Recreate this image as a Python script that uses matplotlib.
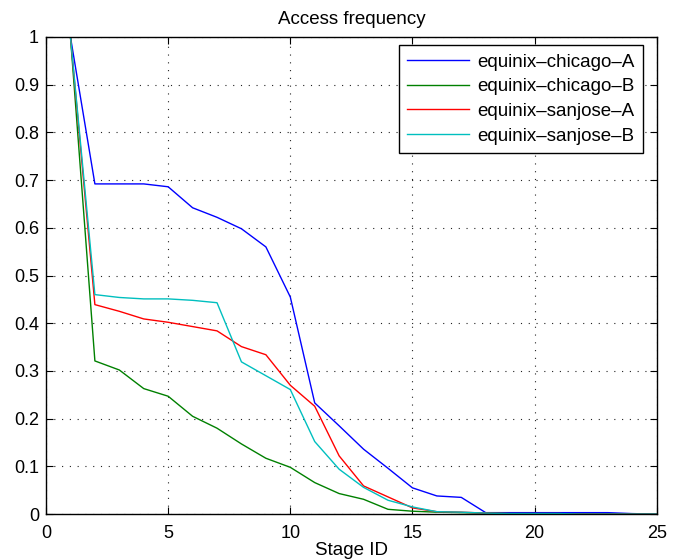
import matplotlib
matplotlib.use("Agg")
import matplotlib.pyplot as plt

# Stage IDs
stages = list(range(1, 26))

# access frequency per stage
chicago_a = [1.0, 0.692, 0.692, 0.692, 0.686, 0.642, 0.622, 0.598, 0.560, 0.455,
             0.233, 0.185, 0.136, 0.096, 0.055, 0.038, 0.035, 0.003, 0.003, 0.003,
             0.003, 0.003, 0.003, 0.001, 0.0]
chicago_b = [1.0, 0.321, 0.302, 0.263, 0.247, 0.205, 0.180, 0.147, 0.117, 0.098,
             0.066, 0.043, 0.031, 0.010, 0.006, 0.004, 0.003, 0.002, 0.001, 0.001,
             0.001, 0.0, 0.0, 0.0, 0.0]
sanjose_a = [1.0, 0.439, 0.425, 0.409, 0.402, 0.393, 0.384, 0.351, 0.334, 0.270,
             0.226, 0.122, 0.059, 0.036, 0.013, 0.005, 0.004, 0.002, 0.001, 0.001,
             0.001, 0.0, 0.0, 0.0, 0.0]
sanjose_b = [1.0, 0.460, 0.454, 0.451, 0.451, 0.448, 0.443, 0.319, 0.290, 0.261,
             0.152, 0.094, 0.056, 0.029, 0.015, 0.005, 0.004, 0.002, 0.001, 0.001,
             0.001, 0.0, 0.0, 0.0, 0.0]

labels = ["equinix\u2013chicago\u2013A", "equinix\u2013chicago\u2013B",
          "equinix\u2013sanjose\u2013A", "equinix\u2013sanjose\u2013B"]

plt.rcParams['font.family'] = ['Liberation Sans', 'DejaVu Sans']

fig = plt.figure(figsize=(6.77, 5.6), dpi=100)
ax = fig.add_axes([0.068, 0.082, 0.902, 0.852])

ax.plot(stages, chicago_a, color=(0, 0, 1), lw=1, label=labels[0])
ax.plot(stages, chicago_b, color=(0, 0.5, 0), lw=1, label=labels[1])
ax.plot(stages, sanjose_a, color=(1, 0, 0), lw=1, label=labels[2])
ax.plot(stages, sanjose_b, color=(0, 0.75, 0.75), lw=1, label=labels[3])

ax.set_xlim(0, 25)
ax.set_ylim(0, 1)
ax.set_xticks(range(0, 26, 5))
ax.set_yticks([i / 10 for i in range(11)])
ax.set_yticklabels(["0"] + ["0.%d" % i for i in range(1, 10)] + ["1"])
ax.tick_params(direction='in', top=True, right=True, labelsize=13, length=5)
ax.tick_params(axis='x', pad=8)
ax.tick_params(axis='y', pad=5)
ax.grid(True, color='#222222', linestyle=(0, (1, 6)), linewidth=0.8)
for s in ax.spines.values():
    s.set_linewidth(1)

ax.set_title("Access frequency", fontsize=13.5, pad=9)
ax.set_xlabel("Stage ID", fontsize=13.5, labelpad=0)

leg = ax.legend(loc='upper right', bbox_to_anchor=(0.977, 0.983), borderaxespad=0,
                fontsize=13.5, fancybox=False, framealpha=1, edgecolor='black',
                handlelength=3.3, handletextpad=0.4, labelspacing=0.4,
                borderpad=0.45)
leg.get_frame().set_linewidth(1)

fig.savefig("out.png", dpi=100)
